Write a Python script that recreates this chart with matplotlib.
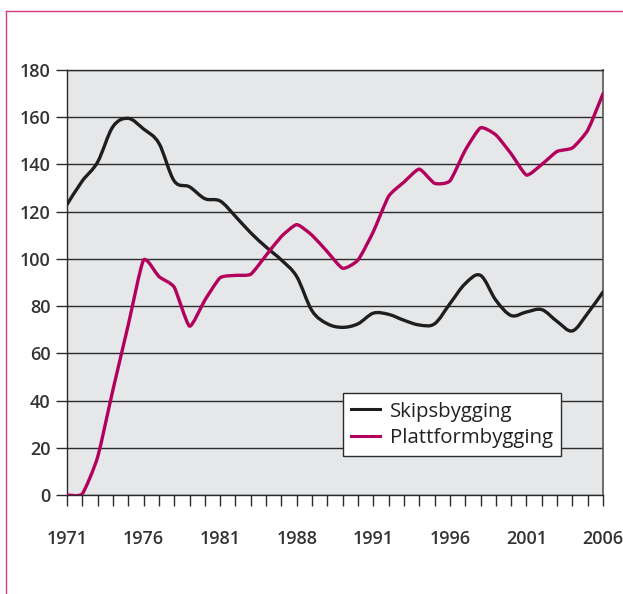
import numpy as np
import matplotlib
matplotlib.use("Agg")
import matplotlib.pyplot as plt
from matplotlib.lines import Line2D
from matplotlib.path import Path
from matplotlib.patches import PathPatch

# ── Data ────────────────────────────────────────────────────────────────
years = list(range(1971, 2007))

skipsbygging = [123, 133, 141, 156, 159.5, 155, 149, 133, 130.5, 125.5,
                124.5, 118, 111, 105, 99.5, 92.5, 78, 72.5, 71, 72.5,
                77, 76.5, 74, 72, 72.5, 81, 89.5, 93, 82.5, 76,
                77.5, 78.5, 73.5, 69.5, 77, 86]

plattformbygging = [0, 0.5, 16, 44.5, 72, 99.5, 92.5, 88, 71.5, 82.5,
                    92, 93, 93.5, 101.5, 109.5, 114.5, 110, 103, 96, 99.5,
                    111.5, 126.5, 132.5, 138, 132, 133, 146, 155.5, 152.5, 144.5,
                    135.5, 140, 145.5, 147, 154.5, 170]

tick_pos = [1971, 1976, 1981, 1986, 1991, 1996, 2001, 2006]
tick_lab = ["1971", "1976", "1981", "1988", "1991", "1996", "2001", "2006"]

# ── Style ───────────────────────────────────────────────────────────────
BG     = "#e6e7e9"
DARK   = "#2b2b2b"
BLACK  = "#1e1e1e"
PINK   = "#b3005c"
BORDER = "#d83a82"
FONT   = "Open Sans"


def smooth_path(x, y, k=1.0):
    """Geglättete Linie: Catmull-Rom als Bezier-Pfad (k = Tangenten-Stärke)."""
    pts = np.column_stack([np.asarray(x, float), np.asarray(y, float)])
    verts = [pts[0]]
    codes = [Path.MOVETO]
    n = len(pts)
    for i in range(n - 1):
        p0 = pts[max(i - 1, 0)]
        p1 = pts[i]
        p2 = pts[i + 1]
        p3 = pts[min(i + 2, n - 1)]
        verts += [p1 + k * (p2 - p0) / 6.0, p2 - k * (p3 - p1) / 6.0, p2]
        codes += [Path.CURVE4] * 3
    return Path(verts, codes)


fig = plt.figure(figsize=(6.23, 5.94), dpi=100)
ax = fig.add_axes([0.1075, 0.1667, 0.8605, 0.7155])
ax.set_facecolor(BG)

for vals, col, k in [(skipsbygging, BLACK, 1.0), (plattformbygging, PINK, 0.55)]:
    patch = PathPatch(smooth_path(years, vals, k), facecolor="none", edgecolor=col,
                      lw=2.4, joinstyle="round", capstyle="round", zorder=3)
    ax.add_patch(patch)

ax.set_xlim(1971, 2006)
ax.set_ylim(0, 180)
ax.set_yticks(range(0, 181, 20))
ax.yaxis.grid(True, color=DARK, lw=1.0)
ax.set_axisbelow(True)

ax.set_xticks(tick_pos)
ax.set_xticklabels(tick_lab)
ax.set_xticks(years, minor=True)
ax.tick_params(axis="x", which="both", direction="out", length=8, width=1,
               color=DARK, pad=17)
ax.tick_params(axis="y", direction="out", length=8, width=1, color=DARK, pad=4)

for lab in ax.get_xticklabels() + ax.get_yticklabels():
    lab.set_fontfamily(FONT)
    lab.set_fontsize(13)
    lab.set_fontweight("semibold")
    lab.set_color("#333333")

for side in ["left", "bottom", "top"]:
    ax.spines[side].set_color(DARK)
    ax.spines[side].set_linewidth(1.0)
ax.spines["right"].set_color("#555555")
ax.spines["right"].set_linewidth(1.2)

handles = [Line2D([], [], color=BLACK, lw=2.2), Line2D([], [], color=PINK, lw=2.2)]
leg = ax.legend(handles, ["Skipsbygging", "Plattformbygging"],
                loc="lower left", bbox_to_anchor=(0.515, 0.092),
                prop={"family": FONT, "size": 14.7},
                frameon=True, fancybox=False, handlelength=1.4,
                borderpad=0.4, labelspacing=0.3, handletextpad=0.5,
                borderaxespad=0)
leg.get_frame().set_edgecolor(DARK)
leg.get_frame().set_linewidth(1.0)
leg.get_frame().set_facecolor("white")
leg.get_frame().set_alpha(1)
for t in leg.get_texts():
    t.set_color("#222222")

# pink frame on top and left edge
fig.add_artist(Line2D([5.5 / 623, 5.5 / 623], [0, 1 - 10.5 / 594],
                      transform=fig.transFigure, color=BORDER, lw=1.0))
fig.add_artist(Line2D([5.5 / 623, 1], [1 - 10.5 / 594, 1 - 10.5 / 594],
                      transform=fig.transFigure, color=BORDER, lw=1.0))

fig.savefig("out.png", dpi=100, facecolor="white")
